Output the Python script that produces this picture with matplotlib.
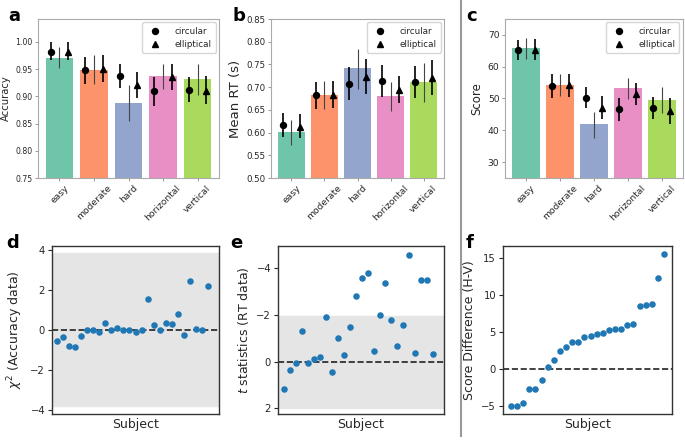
import numpy as np
import matplotlib
matplotlib.use("Agg")
import matplotlib.pyplot as plt
from matplotlib.lines import Line2D

# ---- datos paneles superiores ----
condiciones = ["easy", "moderate", "hard", "horizontal", "vertical"]
colores = ["#66c2a5", "#fc8d62", "#8da0cb", "#e78ac3", "#a6d854"]

acc_media = [0.970, 0.948, 0.888, 0.937, 0.931]
acc_bajo = [0.952, 0.922, 0.855, 0.914, 0.902]
acc_alto = [0.990, 0.975, 0.921, 0.960, 0.960]
acc_circ = [0.982, 0.948, 0.937, 0.910, 0.911]
acc_circ_bajo = [0.966, 0.923, 0.915, 0.883, 0.889]
acc_circ_alto = [0.999, 0.973, 0.960, 0.936, 0.935]
acc_elip = [0.982, 0.950, 0.920, 0.935, 0.909]
acc_elip_bajo = [0.967, 0.926, 0.897, 0.912, 0.885]
acc_elip_alto = [1.000, 0.975, 0.945, 0.960, 0.937]

rt_media = [0.602, 0.682, 0.742, 0.680, 0.712]
rt_bajo = [0.573, 0.652, 0.697, 0.648, 0.668]
rt_alto = [0.628, 0.713, 0.785, 0.711, 0.754]
rt_circ = [0.616, 0.682, 0.708, 0.713, 0.711]
rt_circ_bajo = [0.591, 0.652, 0.672, 0.679, 0.677]
rt_circ_alto = [0.643, 0.712, 0.745, 0.748, 0.746]
rt_elip = [0.613, 0.682, 0.722, 0.694, 0.720]
rt_elip_bajo = [0.588, 0.655, 0.686, 0.666, 0.683]
rt_elip_alto = [0.640, 0.713, 0.761, 0.725, 0.759]

sc_media = [65.8, 54.2, 41.9, 53.3, 49.6]
sc_bajo = [62.5, 50.7, 37.5, 49.8, 45.5]
sc_alto = [69.0, 57.6, 45.8, 56.6, 53.5]
sc_circ = [65.2, 54.0, 50.2, 46.6, 47.0]
sc_circ_bajo = [62.0, 50.3, 46.9, 43.0, 43.6]
sc_circ_alto = [68.4, 57.6, 53.7, 50.3, 50.4]
sc_elip = [65.3, 54.1, 47.0, 51.3, 46.0]
sc_elip_bajo = [62.1, 50.6, 43.5, 48.0, 42.0]
sc_elip_alto = [68.6, 57.7, 50.8, 54.8, 50.3]

# ---- datos paneles inferiores ----
chi2_acc = [-0.58, -0.38, -0.80, -0.85, -0.33, 0.00, 0.00, -0.10, 0.35, 0.00,
            0.08, 0.00, 0.00, -0.10, 0.00, 1.53, 0.25, 0.00, 0.32, 0.27,
            0.78, -0.25, 2.43, 0.05, 0.00, 2.20]
t_rt = [1.17, 0.34, 0.07, -1.33, 0.07, -0.11, -0.19, -1.90, 0.44, -1.01,
        -0.30, -1.50, -2.80, -3.59, -3.80, -0.47, -2.00, -3.36, -1.79, -0.69,
        -1.59, -4.56, -0.36, -3.49, -3.51, -0.31]
dif_score = [-5.00, -4.93, -4.57, -2.65, -2.65, -1.48, 0.31, 1.26, 2.47, 3.00,
             3.63, 3.72, 4.39, 4.44, 4.71, 4.93, 5.29, 5.43, 5.43, 6.00,
             6.14, 8.52, 8.65, 8.79, 12.33, 15.60]

W, H = 685, 440
plt.rcParams["font.family"] = "DejaVu Sans"
plt.rcParams["text.color"] = "#262626"
plt.rcParams["axes.labelcolor"] = "#262626"
plt.rcParams["xtick.color"] = "#262626"
plt.rcParams["ytick.color"] = "#262626"

fig = plt.figure(figsize=(W / 100, H / 100), dpi=100)


def caja(x0, y0, x1, y1):
    """Convierte pixeles de la imagen a coordenadas de figura"""
    return [x0 / W, 1 - y1 / H, (x1 - x0) / W, (y1 - y0) / H]


def panel_barras(ax, media, bajo, alto, circ, cb, ca, elip, eb, ea, ylab, ylim, ticks, fs, fl):
    x = np.arange(len(condiciones))
    ax.bar(x, media, width=0.8, color=colores, alpha=0.95, zorder=1)
    ax.errorbar(x, media, yerr=[np.subtract(media, bajo), np.subtract(alto, media)],
                fmt="none", ecolor="#444444", elinewidth=0.8, linestyle=":", zorder=2)
    ax.errorbar(x - 0.25, circ, yerr=[np.subtract(circ, cb), np.subtract(ca, circ)],
                fmt="o", color="black", ms=4.3, elinewidth=1.2, zorder=3)
    ax.errorbar(x + 0.25, elip, yerr=[np.subtract(elip, eb), np.subtract(ea, elip)],
                fmt="^", color="black", ms=4.3, elinewidth=1.2, zorder=3)
    ax.set_xticks(x)
    ax.set_xticklabels(condiciones, rotation=45, fontsize=6.6)
    ax.set_xlim(-0.62, 4.62)
    ax.set_ylim(*ylim)
    ax.set_yticks(ticks)
    ax.tick_params(axis="y", labelsize=fs, length=2, width=0.6, color="#888888", pad=2)
    ax.tick_params(axis="x", length=2, width=0.6, color="#888888", pad=2)
    ax.set_ylabel(ylab, fontsize=fl, labelpad=3)
    for s in ax.spines.values():
        s.set_color("#aaaaaa")
        s.set_linewidth(0.8)
    handles = [Line2D([], [], marker="o", color="black", ls="none", ms=4.3),
               Line2D([], [], marker="^", color="black", ls="none", ms=4.3)]
    ax.legend(handles, ["circular", "elliptical"], loc="upper right", fontsize=6.3,
              handletextpad=1.2, borderpad=0.5, labelspacing=0.45, borderaxespad=0.4)


ax_a = fig.add_axes(caja(38, 19, 219, 178))
panel_barras(ax_a, acc_media, acc_bajo, acc_alto, acc_circ, acc_circ_bajo, acc_circ_alto,
             acc_elip, acc_elip_bajo, acc_elip_alto, "Accuracy", (0.75, 1.042),
             [0.75, 0.80, 0.85, 0.90, 0.95, 1.00], 5.6, 7.2)
ax_a.set_yticklabels(["0.75", "0.80", "0.85", "0.90", "0.95", "1.00"])

ax_b = fig.add_axes(caja(271, 19, 444, 178))
panel_barras(ax_b, rt_media, rt_bajo, rt_alto, rt_circ, rt_circ_bajo, rt_circ_alto,
             rt_elip, rt_elip_bajo, rt_elip_alto, "Mean RT (s)", (0.50, 0.85),
             [0.50, 0.55, 0.60, 0.65, 0.70, 0.75, 0.80, 0.85], 6.2, 9.5)
ax_b.set_yticklabels(["%.2f" % v for v in ax_b.get_yticks()])

ax_c = fig.add_axes(caja(505, 19, 683, 178))
panel_barras(ax_c, sc_media, sc_bajo, sc_alto, sc_circ, sc_circ_bajo, sc_circ_alto,
             sc_elip, sc_elip_bajo, sc_elip_alto, "Score", (25, 75),
             [30, 40, 50, 60, 70], 6.6, 8.5)


def panel_puntos(ax, valores, ylab):
    x = np.arange(len(valores))
    ax.scatter(x, valores, s=22, color="#1f77b4", zorder=3, linewidths=0)
    ax.axhline(0, color="#222222", ls="--", lw=1.2, zorder=2)
    ax.set_xticks([])
    ax.set_xlabel("Subject", fontsize=9, labelpad=3)
    ax.set_ylabel(ylab, fontsize=9)
    ax.tick_params(labelsize=7.2, length=3, width=0.8, pad=2)
    for s in ax.spines.values():
        s.set_color("#333333")
        s.set_linewidth(1.0)


ax_d = fig.add_axes(caja(52, 246, 219, 414))
ax_d.axhspan(-3.84, 3.84, color="#e5e5e5", zorder=0)
panel_puntos(ax_d, chi2_acc, r"$\chi^2$ (Accuracy data)")
ax_d.set_ylim(-4.22, 4.2)
ax_d.set_yticks([-4, -2, 0, 2, 4])
ax_d.set_xlim(-0.9, 26.9)

ax_e = fig.add_axes(caja(278, 246, 444, 414))
ax_e.axhspan(-1.97, 1.97, color="#e5e5e5", zorder=0)
panel_puntos(ax_e, t_rt, r"$t$ statistics (RT data)")
ax_e.set_ylim(2.24, -4.95)
ax_e.set_yticks([2, 0, -2, -4])
ax_e.set_xlim(-1.0, 26.8)

ax_f = fig.add_axes(caja(503, 246, 672, 414))
panel_puntos(ax_f, dif_score, "Score Difference (H-V)")
ax_f.set_yticks([-5, 0, 5, 10, 15])
ax_f.set_xlim(-1.3, 26.3)

# etiquetas de panel
for letra, px, py in [("a", 8, 16), ("b", 232, 16), ("c", 466, 16),
                      ("d", 6, 243), ("e", 230, 243), ("f", 466, 243)]:
    fig.text(px / W, 1 - py / H, letra, fontsize=13, fontweight="bold", color="black", va="center")

# linea separadora
fig.add_artist(Line2D([461 / W, 461 / W], [0.01, 1.0], color="#999999", lw=1.5))

fig.savefig("out.png", dpi=100)
